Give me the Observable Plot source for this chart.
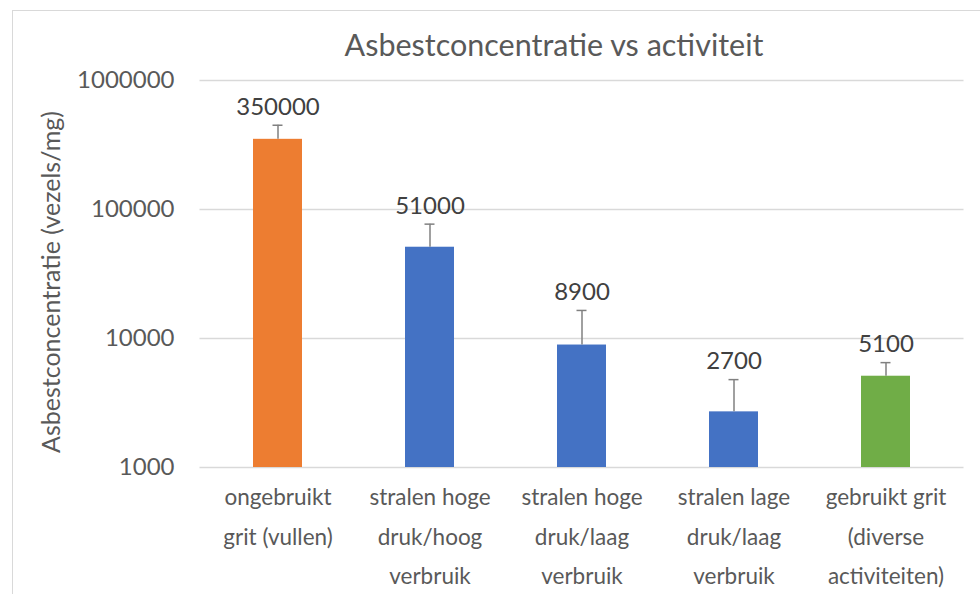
<!DOCTYPE html>
<html>
<head>
<meta charset="utf-8">
<script src="https://cdn.jsdelivr.net/npm/d3@7"></script>
<script src="https://cdn.jsdelivr.net/npm/@observablehq/plot@0.6"></script>
<style>
  html, body { margin: 0; padding: 0; background: #fff; }
  #wrap { position: relative; width: 980px; height: 594px; overflow: hidden; font-family: Lato, "Open Sans", sans-serif; }
  #frame { position: absolute; left: 12px; top: 10px; width: 1000px; height: 1000px; border-top: 1.5px solid #d9d9d9; border-left: 1.5px solid #d9d9d9; box-sizing: border-box; }
  #title { position: absolute; left: 0; top: 25px; width: 980px; padding-left: 128px; box-sizing: border-box; text-align: center; font-size: 30.5px; color: #595959; line-height: 38px; }
  #chart { position: absolute; left: 0; top: 60px; }
  #ylabel { position: absolute; left: 50px; top: 282px; transform: translate(-50%, -50%) rotate(-90deg); white-space: nowrap; font-size: 25px; color: #595959; }
</style>
</head>
<body>
<div id="wrap">
  <div id="frame"></div>
  <div id="title">Asbestconcentratie vs activiteit</div>
  <div id="ylabel">Asbestconcentratie (vezels/mg)</div>
  <div id="chart"></div>
</div>
<script>
const categories = [
  "ongebruikt\ngrit (vullen)",
  "stralen hoge\ndruk/hoog\nverbruik",
  "stralen hoge\ndruk/laag\nverbruik",
  "stralen lage\ndruk/laag\nverbruik",
  "gebruikt grit\n(diverse\nactiviteiten)"
];
const values = [350000, 51000, 8900, 2700, 5100];
const errorHigh = [450000, 77000, 16500, 4800, 6500];
const colors = ["#ED7D31", "#4472C4", "#4472C4", "#4472C4", "#70AD47"];
const yTicks = [1000, 10000, 100000, 1000000];

const data = categories.map((c, i) => ({cat: c, value: values[i], high: errorHigh[i], color: colors[i]}));

const chart = Plot.plot({
  width: 980,
  height: 534,
  marginLeft: 199.5,
  marginRight: 16.5,
  marginTop: 20,
  marginBottom: 127,
  style: {fontFamily: "Lato, 'Open Sans', sans-serif", background: "transparent"},
  x: {domain: categories, paddingInner: 0.68, paddingOuter: 0.34, label: null},
  y: {type: "log", domain: [1000, 1000000], label: null},
  marks: [
    Plot.ruleY(yTicks, {stroke: "#d9d9d9", strokeWidth: 1.5}),
    Plot.axisY({ticks: yTicks, tickFormat: d => String(d), tickSize: 0, tickPadding: 25.5, fontSize: 24, color: "#595959", label: null}),
    Plot.axisX({tickSize: 0, tickPadding: 10, fontSize: 22.5, lineHeight: 1.75, color: "#595959", label: null}),
    Plot.barY(data, {x: "cat", y1: 1000, y2: "value", fill: "color"}),
    Plot.ruleX(data, {x: "cat", y1: "value", y2: "high", stroke: "#808080", strokeWidth: 1.5}),
    Plot.tickY(data, {x: "cat", y: "high", stroke: "#808080", strokeWidth: 1.5, insetLeft: 19.5, insetRight: 19.5}),
    Plot.text(data, {x: "cat", y: "high", text: d => String(d.value), dy: -18, fontSize: 24, fill: "#404040"})
  ]
});
document.getElementById("chart").appendChild(chart);
</script>
</body>
</html>
